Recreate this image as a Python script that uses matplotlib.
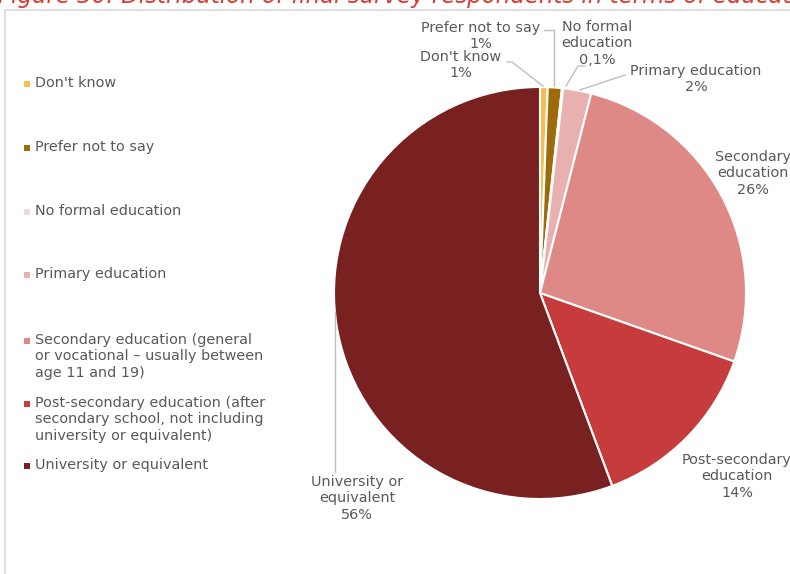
import matplotlib
matplotlib.use("Agg")
import matplotlib.pyplot as plt
from matplotlib.patches import Rectangle

categories = ["Don't know", "Prefer not to say", "No formal education", "Primary education",
              "Secondary education", "Post-secondary education", "University or equivalent"]
values = [0.6, 1.1, 0.1, 2.2, 26.4, 13.9, 55.7]
pct_labels = ["1%", "1%", "0,1%", "2%", "26%", "14%", "56%"]
slice_labels = ["Don't know", "Prefer not to say", "No formal\neducation", "Primary education",
                "Secondary\neducation", "Post-secondary\neducation", "University or\nequivalent"]
legend_labels = ["Don't know", "Prefer not to say", "No formal education", "Primary education",
                 "Secondary education (general\nor vocational \u2013 usually between\nage 11 and 19)",
                 "Post-secondary education (after\nsecondary school, not including\nuniversity or equivalent)",
                 "University or equivalent"]
colors = ["#F6BD4F", "#9E6A0C", "#F3D6D6", "#E9B0B0", "#DE8986", "#C63B3B", "#792021"]
title = "Figure 30: Distribution of final survey respondents in terms of education"

W, H = 790, 574
fig = plt.figure(figsize=(W / 100, H / 100), dpi=100)
ax = fig.add_axes([0, 0, 1, 1])
ax.set_xlim(0, W)
ax.set_ylim(0, H)
ax.axis("off")

def Y(y):  # pixel-from-top to data coord
    return H - y

txt = "#595959"
fs = 10.4
font = "DejaVu Sans"

# border
ax.add_patch(Rectangle((5, Y(600)), 900, 590, fill=False, edgecolor="#D9D9D9", lw=1.2))

# title (clipped at the top edge, as in the reference)
ax.text(-2, Y(3), title, color="#E0362C", fontsize=16.5, style="italic", family=font,
        va="baseline", ha="left", clip_on=False)

# pie
ax.pie(values, colors=colors, startangle=90, counterclock=False, center=(540, Y(293)),
       radius=206, wedgeprops=dict(edgecolor="white", linewidth=1.5), frame=True)
ax.set_xlim(0, W)
ax.set_ylim(0, H)
ax.axis("off")

# data labels (text center x, first-line top y) and leader lines
lab_pos = [(461, 50), (481, 21), (597, 20), (696, 64), (753, 150), (737, 453), (357, 475)]
lead = [
    [(507, 62), (512, 62), (543, 86)],
    [(544, 30), (554, 30), (554, 86)],
    [(585, 66), (578, 66), (566, 86)],
    [(625, 75), (580, 90)],
    None,
    None,
    [(335, 472), (335, 312)],
]
lc = "#BFBFBF"
for i, (lab, pct) in enumerate(zip(slice_labels, pct_labels)):
    x, y = lab_pos[i]
    ax.text(x, Y(y), lab + "\n" + pct, ha="center", va="top",
            fontsize=fs, color=txt, family=font, linespacing=1.22)
    if lead[i]:
        xs = [p[0] for p in lead[i]]
        ys = [Y(p[1]) for p in lead[i]]
        ax.plot(xs, ys, color=lc, lw=1)

# legend
leg_y = [84, 148, 212, 275, 341, 404, 466]
for c, lab, y in zip(colors, legend_labels, leg_y):
    ax.add_patch(Rectangle((24, Y(y) - 3), 6, 6, facecolor=c, edgecolor="none"))
    ax.text(35, Y(y) + 8, lab, ha="left", va="top", fontsize=fs, color=txt, family=font,
            linespacing=1.22)

fig.savefig("out.png", dpi=100)
